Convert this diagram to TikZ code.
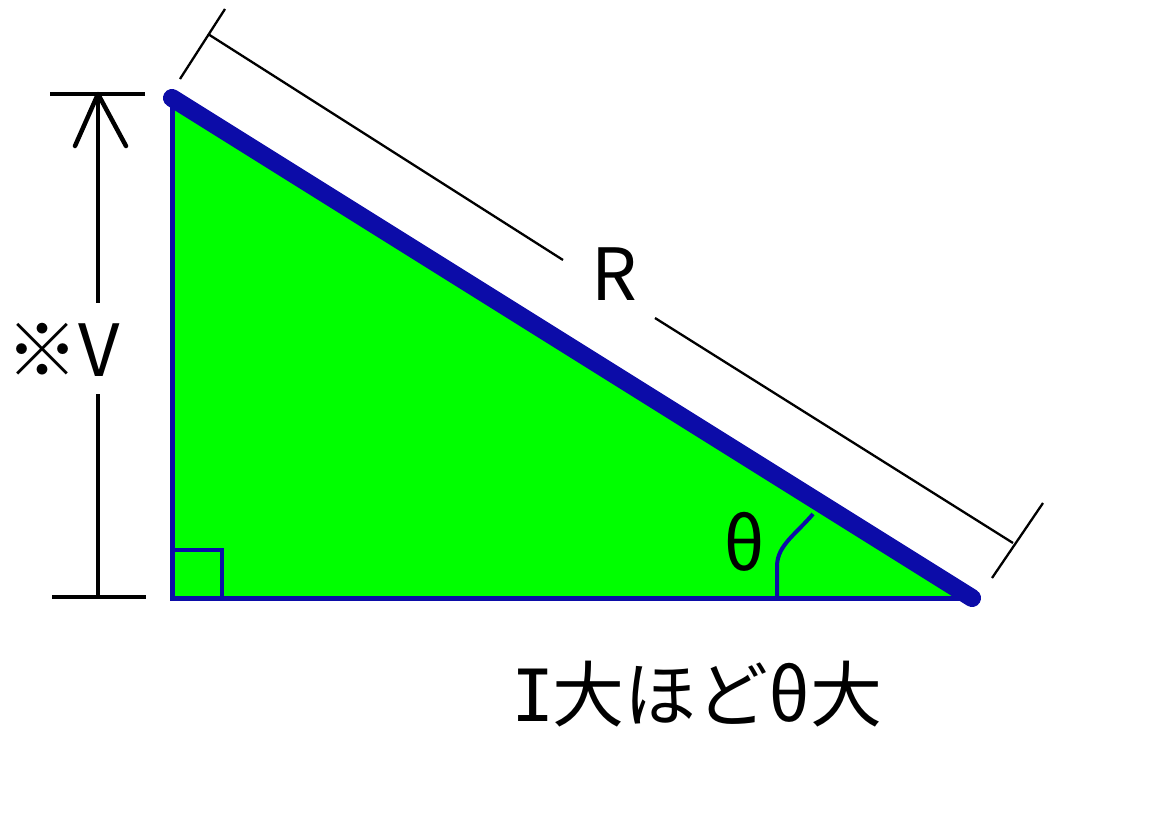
\documentclass[tikz,border=0pt]{standalone}
\usepackage{fontspec}
\setmainfont{Noto Sans CJK JP}
\newfontfamily\monoI{DejaVu Sans Mono}
\begin{document}
\begin{tikzpicture}[x=1pt,y=-1pt,
  dimline/.style={black,line width=2.3},
  vline/.style={black,line width=3.2},
  thinblue/.style={tblue,line width=5},
  lbl/.style={inner sep=0pt,font=\fontsize{72}{80}\selectfont}]
\definecolor{tblue}{RGB}{12,12,168}
\definecolor{tgreen}{RGB}{0,255,0}
\useasboundingbox (0,0) rectangle (1150,833);
% triangle
\coordinate (A) at (172,98);
\coordinate (B) at (972,598);
\coordinate (C) at (172,598);
\fill[tgreen] (A) -- (B) -- (C) -- cycle;
\draw[thinblue] (A) -- (C) -- (B);
\coordinate (Q1) at (172,550);
\coordinate (Q2) at (222,598);
\draw[tblue,line width=4] (Q1) rectangle (Q2);
\coordinate (T1) at (777,598);
\coordinate (T2) at (777,565);
\coordinate (T3) at (813,514);
\draw[tblue,line width=4] (T1) -- (T2) .. controls (778,545) and (795,535) .. (T3);
\draw[tblue,line width=18,line cap=round] (A) -- (B);
% R dimension
\coordinate (R1a) at (180,79);
\coordinate (R1b) at (225,9);
\coordinate (R2a) at (992,578);
\coordinate (R2b) at (1043,503);
\coordinate (D1) at (208,34);
\coordinate (D2) at (563,260);
\coordinate (D3) at (655,318);
\coordinate (D4) at (1013,543);
\draw[dimline] (R1a) -- (R1b);
\draw[dimline] (R2a) -- (R2b);
\draw[dimline] (D1) -- (D2);
\draw[dimline] (D3) -- (D4);
\node[lbl] (R) at (614,274) {R};
% V dimension
\coordinate (V1a) at (50,94);
\coordinate (V1b) at (145,94);
\coordinate (V2a) at (52,597);
\coordinate (V2b) at (146,597);
\coordinate (S1) at (98,94);
\coordinate (S2) at (98,303);
\coordinate (S3) at (98,394);
\coordinate (S4) at (98,597);
\coordinate (H1) at (75,146);
\coordinate (H2) at (126,146);
\draw[vline] (V1a) -- (V1b);
\draw[vline] (V2a) -- (V2b);
\draw[vline] (S1) -- (S2);
\draw[vline] (S3) -- (S4);
\draw[black,line width=4.5,line cap=round,line join=round] (H1) -- (S1) -- (H2);
\node[lbl] (V) at (63,350) {※V};
% theta and caption
\node[lbl] (th) at (744,542) {θ};
\node[lbl] (cap) at (697,694) {{\monoI I}\kern-3pt大ほどθ大};
\end{tikzpicture}
\end{document}
